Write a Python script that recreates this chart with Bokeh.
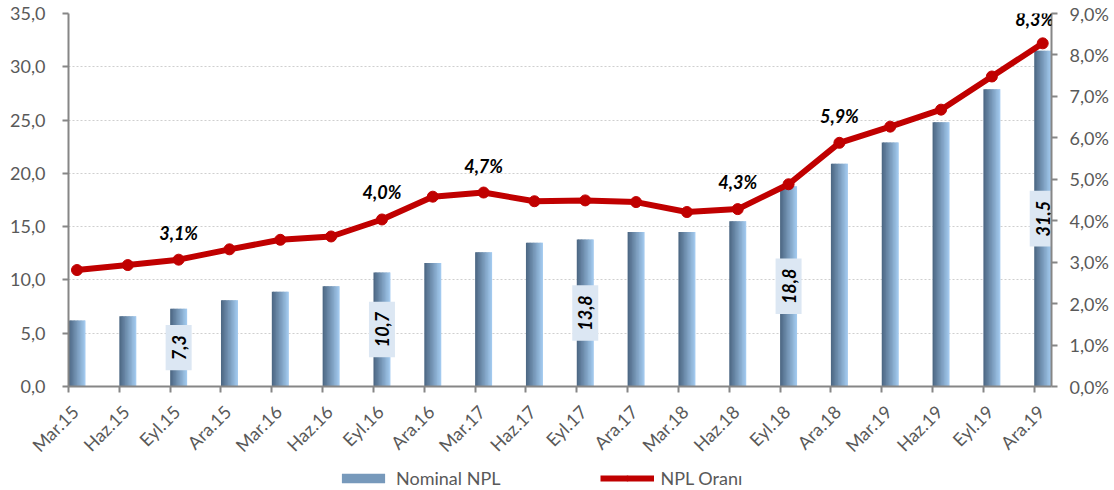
import math
from bokeh.plotting import figure
from bokeh.layouts import column
from bokeh.models import (Range1d, LinearAxis, FixedTicker, ColumnDataSource,
                          LabelSet, Legend, LegendItem)
from bokeh.embed import file_html
from bokeh.resources import INLINE
from bokeh.core.properties import value

# ---------------- data ----------------
categories = ["Mar.15", "Haz.15", "Eyl.15", "Ara.15", "Mar.16", "Haz.16", "Eyl.16",
              "Ara.16", "Mar.17", "Haz.17", "Eyl.17", "Ara.17", "Mar.18", "Haz.18",
              "Eyl.18", "Ara.18", "Mar.19", "Haz.19", "Eyl.19", "Ara.19"]
nominal_npl = [6.2, 6.6, 7.3, 8.1, 8.9, 9.4, 10.7, 11.6, 12.6, 13.5,
               13.8, 14.5, 14.5, 15.5, 18.8, 20.9, 22.9, 24.8, 27.9, 31.5]
npl_ratio = [2.81, 2.93, 3.06, 3.31, 3.54, 3.62, 4.03, 4.58, 4.68, 4.47,
             4.49, 4.45, 4.21, 4.28, 4.88, 5.88, 6.27, 6.68, 7.48, 8.28]
bar_label_idx = [2, 6, 10, 14, 19]
ratio_label_idx = [2, 6, 8, 13, 15, 19]
left_ticks = [0, 5, 10, 15, 20, 25, 30, 35]
right_ticks = [0, 1, 2, 3, 4, 5, 6, 7, 8, 9]

# ---------------- style ----------------
FONT = "Lato"
GREY_TXT = "#595959"
AXIS_COL = "#868686"
RED = "#C00000"
BAR_W = 0.334          # bar width in category units
BAR_OFF = 0.0          # bar left edge relative to tick
LBL_OFF = 0.13         # category label offset
N_STRIPES = 12
C_DARK = (0x4E, 0x69, 0x85)
C_LIGHT = (0xA2, 0xC9, 0xEE)
MID_COL = "#7799bb"
NAN = float("nan")

n = len(categories)
xs = list(range(n))
centers = [i + BAR_OFF + BAR_W / 2 for i in xs]

p = figure(width=1114, height=466,
           x_range=Range1d(0, 19.34), y_range=Range1d(0, 35),
           output_backend="svg", toolbar_location=None,
           min_border_left=68, min_border_top=13, min_border_right=63,
           min_border_bottom=78)
p.outline_line_color = None
p.background_fill_color = "white"
p.border_fill_color = "white"
p.extra_y_ranges = {"pct": Range1d(0, 9)}

# grid
p.xgrid.visible = False
p.ygrid.ticker = FixedTicker(ticks=left_ticks)
p.ygrid.grid_line_color = "#cfcfcf"
p.ygrid.grid_line_dash = "2 2"
p.ygrid.grid_line_width = 1.2

# left axis
ya = p.yaxis[0]
ya.ticker = FixedTicker(ticks=left_ticks)
ya.major_label_overrides = {t: f"{t:.1f}".replace(".", ",") for t in left_ticks}
ya.axis_line_color = AXIS_COL
ya.axis_line_width = 2
ya.major_tick_line_color = AXIS_COL
ya.major_tick_line_width = 2
ya.major_tick_out = 6
ya.major_tick_in = 0
ya.minor_tick_line_color = None
ya.major_label_standoff = 17
ya.major_label_text_font = FONT
ya.major_label_text_font_size = "18px"
ya.major_label_text_color = GREY_TXT

# right axis
ra = LinearAxis(y_range_name="pct", ticker=FixedTicker(ticks=right_ticks))
ra.major_label_overrides = {t: f"{t},0%" for t in right_ticks}
ra.axis_line_color = AXIS_COL
ra.axis_line_width = 2
ra.major_tick_line_color = AXIS_COL
ra.major_tick_line_width = 2
ra.major_tick_out = 6
ra.major_tick_in = 0
ra.minor_tick_line_color = None
ra.major_label_standoff = 12
ra.major_label_text_font = FONT
ra.major_label_text_font_size = "18px"
ra.major_label_text_color = GREY_TXT
p.add_layout(ra, "right")

# bottom axis: tick marks only
xa = p.xaxis[0]
xa.ticker = FixedTicker(ticks=xs)
xa.major_label_overrides = {i: "" for i in xs}
xa.major_label_text_font_size = "1px"
xa.major_label_standoff = 0
xa.axis_line_color = AXIS_COL
xa.axis_line_width = 2
xa.major_tick_line_color = AXIS_COL
xa.major_tick_line_width = 2
xa.major_tick_out = 6
xa.major_tick_in = 0
xa.minor_tick_line_color = None

# bottom axis: category labels
lbl_ticks = [round(i + LBL_OFF, 3) for i in xs]
xa2 = LinearAxis(ticker=FixedTicker(ticks=lbl_ticks))
xa2.major_label_overrides = {t: c for t, c in zip(lbl_ticks, categories)}
xa2.axis_line_color = None
xa2.major_tick_line_color = None
xa2.minor_tick_line_color = None
xa2.major_tick_out = 0
xa2.major_tick_in = 0
xa2.major_label_standoff = 16
xa2.major_label_orientation = math.pi / 4
xa2.major_label_text_font = FONT
xa2.major_label_text_font_size = "18px"
xa2.major_label_text_color = GREY_TXT
p.add_layout(xa2, "below")

# ---------------- bars with horizontal gradient ----------------
def mix(a, b, t):
    return "#%02x%02x%02x" % tuple(int(round(a[k] + (b[k] - a[k]) * t)) for k in range(3))

ws = BAR_W / N_STRIPES
for k in range(N_STRIPES):
    t = k / (N_STRIPES - 1)
    col = mix(C_DARK, C_LIGHT, t)
    lefts = [i + BAR_OFF + k * ws for i in xs]
    rights = [min(l + ws * 1.6, i + BAR_OFF + BAR_W) for l, i in zip(lefts, xs)]
    p.quad(left=lefts, right=rights, top=nominal_npl, bottom=[0] * n,
           fill_color=col, line_color=None)

# ---------------- line ----------------
line_src = ColumnDataSource(dict(x=centers, y=npl_ratio))
p.line("x", "y", source=line_src, y_range_name="pct",
       line_color=RED, line_width=6, line_join="round")
p.scatter("x", "y", source=line_src, y_range_name="pct", size=11,
          fill_color=RED, line_color=RED)

# ---------------- bar value labels ----------------
bl_src = ColumnDataSource(dict(
    x=[centers[i] for i in bar_label_idx],
    y=[nominal_npl[i] / 2 for i in bar_label_idx],
    t=[f"{nominal_npl[i]:.1f}".replace(".", ",") for i in bar_label_idx]))
p.text("x", "y", text="t", source=bl_src, angle=math.pi / 2,
       text_align="center", text_baseline="middle",
       text_font=value(FONT), text_font_size="18px", text_font_style="bold italic",
       text_color="black", background_fill_color="#DCE7F3",
       padding=dict(left=10, right=10, top=6, bottom=6))

# ---------------- ratio labels ----------------
last = ratio_label_idx[-1]
rl_src = ColumnDataSource(dict(
    x=[centers[i] for i in ratio_label_idx],
    y=[npl_ratio[i] for i in ratio_label_idx],
    t=[f"{npl_ratio[i]:.1f}".replace(".", ",") + "%" for i in ratio_label_idx],
    dx=[-8 if i == last else 0 for i in ratio_label_idx],
    dy=[24 if i == last else 27 for i in ratio_label_idx]))
p.add_layout(LabelSet(x="x", y="y", text="t", source=rl_src, y_range_name="pct",
                      x_offset="dx", y_offset="dy",
                      text_align="center", text_baseline="middle",
                      text_font=value(FONT), text_font_size="18px",
                      text_font_style="bold italic", text_color="black"))

# ---------------- legend (separate strip below) ----------------
# legend-only renderers: their data lies outside this strip's visible range
pl = figure(width=1114, height=24, x_range=Range1d(0, 1), y_range=Range1d(0, 1),
            output_backend="svg", toolbar_location=None,
            x_axis_location=None, y_axis_location=None,
            min_border=0)
pl.outline_line_color = None
pl.xgrid.visible = False
pl.ygrid.visible = False
lg_bar = pl.quad(left=[NAN], right=[NAN], top=[NAN], bottom=[NAN],
                 fill_color=MID_COL, line_color=None)
lg_line = pl.line(x=[NAN], y=[NAN], line_color=RED, line_width=6)
lg_pts = pl.scatter(x=[-5], y=[-5], size=11, fill_color=RED, line_color=RED)
legend = Legend(items=[
    LegendItem(label="Nominal NPL", renderers=[lg_bar]),
    LegendItem(label="NPL Oranı", renderers=[lg_line, lg_pts]),
], orientation="horizontal", location=(268, 1))
legend.glyph_width = 54
legend.glyph_height = 12
legend.label_standoff = 6
legend.spacing = 100
legend.padding = 0
legend.margin = 0
legend.border_line_color = None
legend.background_fill_alpha = 0
legend.label_text_font = FONT
legend.label_text_font_size = "18px"
legend.label_text_color = GREY_TXT
pl.add_layout(legend, "center")

layout = column(p, pl, spacing=0)
open("out.html", "w").write(file_html(layout, INLINE))
